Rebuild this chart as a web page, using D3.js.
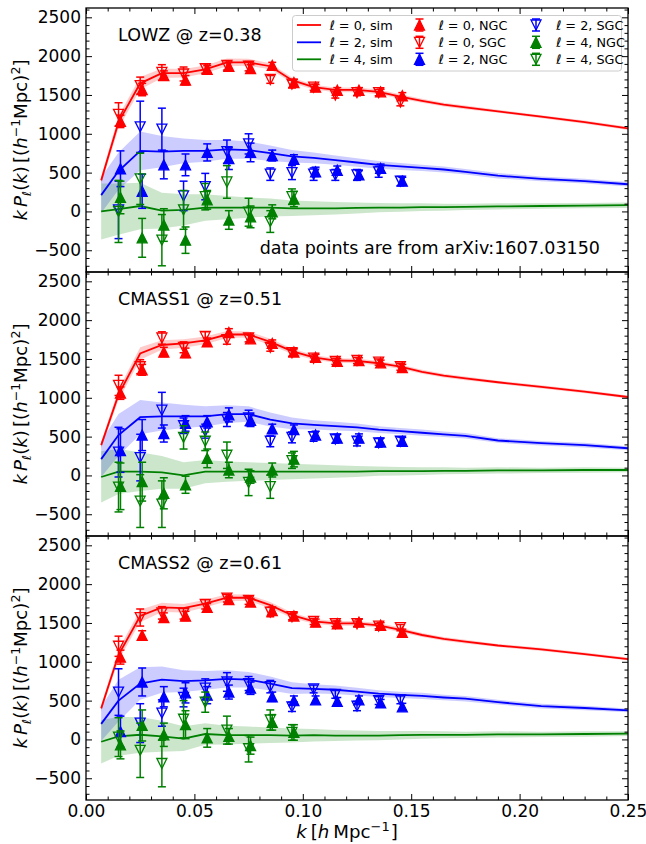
<!DOCTYPE html>
<html>
<head>
<meta charset="utf-8">
<script src="https://cdn.jsdelivr.net/npm/d3@7"></script>
<style>
  body { margin: 0; background: #fff; }
  text { font-family: "DejaVu Sans", sans-serif; }
</style>
</head>
<body>
<div id="container"></div>
<script>
// k grids
const kSim = [0.007, 0.015, 0.025, 0.035, 0.045, 0.055, 0.065, 0.075, 0.085, 0.095, 0.105, 0.115, 0.125, 0.135, 0.145, 0.155, 0.165, 0.175, 0.19, 0.21, 0.23, 0.25];
const kData = [0.015, 0.025, 0.035, 0.045, 0.055, 0.065, 0.075, 0.085, 0.095, 0.105, 0.115, 0.125, 0.135, 0.145];
const kData4 = [0.015, 0.025, 0.035, 0.045, 0.055, 0.065, 0.075, 0.085, 0.095];
const ngcShift = 0.0009;

const xTicks = [0, 0.05, 0.10, 0.15, 0.20, 0.25];
const yTicks = [-500, 0, 500, 1000, 1500, 2000, 2500];
const yDomain = [-780, 2620];

const panelLabels = ["LOWZ @ z=0.38", "CMASS1 @ z=0.51", "CMASS2 @ z=0.61"];
const legendSim = ["0, sim", "2, sim", "4, sim"];
const legendData = ["0, NGC", "0, SGC", "2, NGC", "2, SGC", "4, NGC", "4, SGC"];

// LOWZ
const lowzSim0 = [400, 1150, 1650, 1780, 1780, 1830, 1920, 1920, 1870, 1690, 1600, 1565, 1565, 1540, 1480, 1425, 1375, 1340, 1290, 1220, 1150, 1070];
const lowzSim2 = [210, 520, 780, 770, 780, 780, 800, 790, 750, 710, 690, 660, 630, 600, 580, 560, 540, 510, 460, 420, 390, 350];
const lowzSim4 = [0, 30, 70, 10, 20, 50, 50, 50, 50, 40, 40, 40, 45, 50, 50, 55, 55, 60, 65, 70, 75, 80];
const lowzBand0 = [50, 80, 80, 60, 55, 50, 50, 45, 40, 35, 30, 30, 30, 30, 30, 25, 25, 25, 20, 20, 20, 20];
const lowzBand2 = [230, 240, 250, 200, 160, 140, 120, 110, 100, 80, 70, 60, 55, 50, 45, 40, 40, 35, 35, 30, 30, 30];
const lowzBand4 = [360, 330, 300, 230, 200, 170, 150, 130, 115, 100, 90, 80, 70, 60, 55, 50, 45, 40, 40, 35, 35, 35];
const lowzNgc0 = [1160, 1570, 1750, 1690, 1830, 1870, 1840, 1880, 1660, 1600, 1560, 1560, 1540, 1490];
const lowzNgc0Err = [80, 80, 60, 60, 50, 50, 50, 40, 40, 35, 35, 35, 35, 40];
const lowzSgc0 = [1250, 1620, 1790, 1770, 1840, 1880, 1870, 1700, 1640, 1600, 1500, 1530, 1530, 1410];
const lowzSgc0Err = [150, 110, 100, 90, 60, 60, 60, 50, 50, 40, 40, 40, 40, 50];
const lowzNgc2 = [550, 260, 600, 600, 760, 680, 760, 720, 670, 510, 530, 470, 555, 390];
const lowzNgc2Err = [230, 220, 180, 140, 110, 140, 120, 70, 60, 60, 55, 55, 55, 50];
const lowzSgc2 = [20, 1090, 1060, 200, 320, 770, 870, 480, 500, 480, 470, 470, 510, 390];
const lowzSgc2Err = [370, 330, 270, 190, 170, 150, 130, 80, 90, 80, 70, 70, 70, 60];
const lowzNgc4 = [180, -340, -175, -370, 150, -110, -70, -5, 160];
const lowzNgc4Err = [210, 250, 210, 170, 120, 120, 140, 90, 100];
const lowzSgc4 = [0, 420, -370, 20, 190, 380, -10, -130, 190];
const lowzSgc4Err = [400, 330, 330, 250, 170, 210, 180, 140, 100];

// CMASS1
const cmass1Sim0 = [390, 1040, 1570, 1680, 1700, 1740, 1815, 1815, 1720, 1600, 1520, 1480, 1475, 1445, 1400, 1335, 1285, 1250, 1200, 1140, 1080, 1010];
const cmass1Sim2 = [210, 520, 750, 760, 760, 760, 790, 790, 720, 670, 650, 635, 620, 590, 570, 550, 530, 510, 450, 415, 390, 350];
const cmass1Sim4 = [-20, 50, 50, 40, 0, 50, 50, 50, 50, 50, 50, 50, 50, 55, 55, 55, 60, 60, 65, 65, 70, 70];
const cmass1Band0 = [40, 70, 80, 60, 55, 50, 45, 40, 40, 35, 30, 30, 30, 30, 30, 25, 25, 25, 20, 20, 20, 20];
const cmass1Band2 = [230, 270, 220, 180, 150, 130, 115, 100, 90, 75, 60, 55, 50, 45, 40, 40, 35, 35, 30, 30, 30, 25];
const cmass1Band4 = [330, 290, 250, 210, 170, 150, 130, 120, 110, 100, 90, 80, 70, 60, 55, 50, 45, 40, 40, 35, 35, 30];
const cmass1Ngc0 = [1060, 1360, 1590, 1580, 1720, 1840, 1760, 1700, 1590, 1520, 1470, 1480, 1450, 1390];
const cmass1Ngc0Err = [80, 70, 60, 60, 50, 50, 45, 45, 40, 40, 35, 35, 35, 40];
const cmass1Sgc0 = [1160, 1400, 1770, 1650, 1790, 1750, 1770, 1650, 1580, 1510, 1470, 1480, 1460, 1400];
const cmass1Sgc0Err = [130, 90, 80, 70, 60, 60, 50, 50, 45, 40, 40, 40, 40, 45];
const cmass1Ngc2 = [320, 520, 540, 670, 690, 780, 710, 600, 590, 520, 480, 480, 430, 440];
const cmass1Ngc2Err = [280, 200, 110, 100, 80, 90, 80, 60, 60, 50, 50, 55, 50, 50];
const cmass1Sgc2 = [300, 230, 840, 640, 570, 720, 740, 440, 490, 500, 470, 440, 420, 440];
const cmass1Sgc2Err = [320, 300, 230, 100, 90, 90, 100, 70, 70, 60, 55, 60, 55, 55];
const cmass1Ngc4 = [-140, -80, -230, -120, 220, 70, -20, 70, 210];
const cmass1Ngc4Err = [300, 250, 200, 110, 120, 100, 80, 90, 100];
const cmass1Sgc4 = [-150, -330, -370, 490, 440, 260, -90, -145, 190];
const cmass1Sgc4Err = [320, 340, 300, 150, 120, 170, 170, 150, 100];

// CMASS2
const cmass2Sim0 = [400, 1090, 1590, 1700, 1690, 1750, 1825, 1825, 1730, 1600, 1520, 1495, 1495, 1470, 1410, 1345, 1295, 1260, 1210, 1160, 1100, 1035];
const cmass2Sim2 = [200, 500, 720, 770, 750, 760, 780, 770, 720, 660, 650, 640, 615, 590, 575, 560, 540, 525, 480, 430, 405, 375];
const cmass2Sim4 = [-30, 40, 60, 40, 10, 70, 55, 55, 55, 50, 55, 50, 50, 50, 55, 60, 60, 60, 65, 65, 70, 75];
const cmass2Band0 = [40, 70, 80, 60, 55, 50, 45, 40, 40, 35, 30, 30, 30, 30, 30, 25, 25, 25, 20, 20, 20, 20];
const cmass2Band2 = [220, 270, 210, 170, 140, 120, 110, 100, 90, 75, 60, 55, 50, 45, 40, 40, 35, 35, 30, 30, 30, 25];
const cmass2Band4 = [280, 250, 230, 200, 160, 140, 120, 110, 100, 90, 80, 70, 65, 60, 55, 50, 45, 40, 40, 35, 35, 30];
const cmass2Ngc0 = [1060, 1340, 1570, 1590, 1700, 1800, 1770, 1660, 1590, 1510, 1490, 1510, 1470, 1380];
const cmass2Ngc0Err = [90, 60, 60, 60, 50, 45, 45, 45, 40, 40, 35, 40, 35, 40];
const cmass2Sgc0 = [1200, 1570, 1630, 1620, 1740, 1820, 1790, 1640, 1580, 1520, 1490, 1490, 1460, 1440];
const cmass2Sgc0Err = [130, 110, 80, 70, 60, 50, 50, 60, 40, 40, 35, 35, 35, 40];
const cmass2Ngc2 = [100, 740, 550, 600, 570, 610, 660, 550, 500, 510, 490, 510, 470, 420];
const cmass2Ngc2Err = [200, 180, 130, 130, 110, 90, 80, 60, 60, 50, 50, 50, 45, 45];
const cmass2Sgc2 = [610, 210, 340, 540, 660, 740, 720, 680, 420, 650, 580, 430, 500, 510];
const cmass2Sgc2Err = [300, 250, 170, 120, 120, 120, 90, 80, 60, 50, 50, 60, 50, 50];
const cmass2Ngc4 = [-70, 180, 60, 190, 20, 40, -80, 220, 90];
const cmass2Ngc4Err = [180, 200, 150, 180, 120, 100, 110, 100, 100];
const cmass2Sgc4 = [30, -140, -310, 260, 480, 120, -120, 250, 90];
const cmass2Sgc4Err = [250, 350, 300, 240, 130, 180, 170, 130, 100];

const colors = ["red", "blue", "green"];

const panels = [
  {sim: [lowzSim0, lowzSim2, lowzSim4], band: [lowzBand0, lowzBand2, lowzBand4],
   ngc: [lowzNgc0, lowzNgc2, lowzNgc4], ngcErr: [lowzNgc0Err, lowzNgc2Err, lowzNgc4Err],
   sgc: [lowzSgc0, lowzSgc2, lowzSgc4], sgcErr: [lowzSgc0Err, lowzSgc2Err, lowzSgc4Err]},
  {sim: [cmass1Sim0, cmass1Sim2, cmass1Sim4], band: [cmass1Band0, cmass1Band2, cmass1Band4],
   ngc: [cmass1Ngc0, cmass1Ngc2, cmass1Ngc4], ngcErr: [cmass1Ngc0Err, cmass1Ngc2Err, cmass1Ngc4Err],
   sgc: [cmass1Sgc0, cmass1Sgc2, cmass1Sgc4], sgcErr: [cmass1Sgc0Err, cmass1Sgc2Err, cmass1Sgc4Err]},
  {sim: [cmass2Sim0, cmass2Sim2, cmass2Sim4], band: [cmass2Band0, cmass2Band2, cmass2Band4],
   ngc: [cmass2Ngc0, cmass2Ngc2, cmass2Ngc4], ngcErr: [cmass2Ngc0Err, cmass2Ngc2Err, cmass2Ngc4Err],
   sgc: [cmass2Sgc0, cmass2Sgc2, cmass2Sgc4], sgcErr: [cmass2Sgc0Err, cmass2Sgc2Err, cmass2Sgc4Err]}
];

const width = 646, height = 844
  , left = 86, right = 628
  , panelTop = 8, panelHeight = 264
  , tickFont = 17
  , textFont = 17.5
  , labelFont = 18.2
  , majorLen = 6, minorLen = 3.5
  , capHalf = 4, mk = 5;

const svg = d3.select("#container").append("svg")
  .attr("width", width)
  .attr("height", height);

const x = d3.scaleLinear().domain([0, 0.25]).range([left, right]);
const xMinor = d3.range(0, 0.2501, 0.01).filter(v => Math.abs(v * 20 - Math.round(v * 20)) > 1e-6);
const yMinor = d3.range(-700, 2601, 100).filter(v => v % 500 != 0);

const triUp = `M0,${-mk}L${-mk},${mk}L${mk},${mk}Z`
  , triDown = `M0,${mk}L${-mk},${-mk}L${mk},${-mk}Z`;

function styleAxis(g, fontSize) {
  g.select(".domain").remove();
  g.selectAll(".tick line").attr("stroke", "#000").attr("stroke-width", 1);
  g.selectAll(".tick text")
    .attr("font-size", fontSize)
    .attr("font-family", "DejaVu Sans")
    .attr("fill", "#000");
}

function drawErrorbars(g, xs, vals, errs, y, color, filled) {
  const pts = g.append("g").selectAll("g")
    .data(xs.map((k, i) => ({k: k, v: vals[i], e: errs[i]})))
    .enter().append("g");
  pts.append("line")
    .attr("x1", d => x(d.k)).attr("x2", d => x(d.k))
    .attr("y1", d => y(d.v - d.e)).attr("y2", d => y(d.v + d.e))
    .attr("stroke", color).attr("stroke-width", 1.5);
  [-1, 1].forEach(s => {
    pts.append("line")
      .attr("x1", d => x(d.k) - capHalf).attr("x2", d => x(d.k) + capHalf)
      .attr("y1", d => y(d.v + s * d.e)).attr("y2", d => y(d.v + s * d.e))
      .attr("stroke", color).attr("stroke-width", 1.5);
  });
  pts.append("path")
    .attr("transform", d => `translate(${x(d.k)},${y(d.v)})`)
    .attr("d", filled ? triUp : triDown)
    .attr("fill", filled ? color : "none")
    .attr("stroke", color)
    .attr("stroke-width", 1.3);
}

panels.forEach((p, pi) => {
  const top = panelTop + pi * panelHeight
    , bottom = top + panelHeight;
  const y = d3.scaleLinear().domain(yDomain).range([bottom, top]);
  const g = svg.append("g");

  const clipId = "clip" + pi;
  svg.append("clipPath").attr("id", clipId)
    .append("rect").attr("x", left).attr("y", top)
    .attr("width", right - left).attr("height", panelHeight);

  const content = g.append("g").attr("clip-path", `url(#${clipId})`);

  // shaded bands
  p.sim.forEach((s, l) => {
    const area = d3.area()
      .x((d, i) => x(kSim[i]))
      .y0((d, i) => y(d - p.band[l][i]))
      .y1((d, i) => y(d + p.band[l][i]));
    content.append("path")
      .datum(s)
      .attr("d", area)
      .attr("fill", colors[l])
      .attr("fill-opacity", 0.2)
      .attr("stroke", "none");
  });

  // sim lines
  p.sim.forEach((s, l) => {
    const line = d3.line().x((d, i) => x(kSim[i])).y(d => y(d));
    content.append("path")
      .datum(s)
      .attr("d", line)
      .attr("fill", "none")
      .attr("stroke", colors[l])
      .attr("stroke-width", 1.8);
  });

  // data points
  p.ngc.forEach((vals, l) => {
    const ks = l == 2 ? kData4 : kData;
    drawErrorbars(content, ks.map(k => k + ngcShift), vals, p.ngcErr[l], y, colors[l], true);
    drawErrorbars(content, ks, p.sgc[l], p.sgcErr[l], y, colors[l], false);
  });

  // axes, ticks inward on all sides
  g.append("g").attr("transform", `translate(${left},0)`)
    .call(d3.axisLeft(y).tickValues(yTicks).tickSize(-majorLen).tickPadding(5).tickFormat(d3.format("d")))
    .call(a => styleAxis(a, tickFont));
  g.append("g").attr("transform", `translate(${left},0)`)
    .call(d3.axisLeft(y).tickValues(yMinor).tickSize(-minorLen).tickFormat(""))
    .call(a => styleAxis(a, tickFont));
  g.append("g").attr("transform", `translate(${right},0)`)
    .call(d3.axisRight(y).tickValues(yTicks).tickSize(-majorLen).tickFormat(""))
    .call(a => styleAxis(a, tickFont));
  g.append("g").attr("transform", `translate(${right},0)`)
    .call(d3.axisRight(y).tickValues(yMinor).tickSize(-minorLen).tickFormat(""))
    .call(a => styleAxis(a, tickFont));
  g.append("g").attr("transform", `translate(0,${top})`)
    .call(d3.axisTop(x).tickValues(xTicks).tickSize(-majorLen).tickFormat(""))
    .call(a => styleAxis(a, tickFont));
  g.append("g").attr("transform", `translate(0,${top})`)
    .call(d3.axisTop(x).tickValues(xMinor).tickSize(-minorLen).tickFormat(""))
    .call(a => styleAxis(a, tickFont));
  g.append("g").attr("transform", `translate(0,${bottom})`)
    .call(d3.axisBottom(x).tickValues(xTicks).tickSize(-majorLen).tickPadding(5)
      .tickFormat(pi == 2 ? d3.format(".2f") : ""))
    .call(a => styleAxis(a, tickFont));
  g.append("g").attr("transform", `translate(0,${bottom})`)
    .call(d3.axisBottom(x).tickValues(xMinor).tickSize(-minorLen).tickFormat(""))
    .call(a => styleAxis(a, tickFont));

  g.append("rect")
    .attr("x", left).attr("y", top)
    .attr("width", right - left).attr("height", panelHeight)
    .attr("fill", "none").attr("stroke", "#000").attr("stroke-width", 1.3);

  g.append("text")
    .attr("x", 118).attr("y", top + 33)
    .attr("font-size", textFont)
    .text(panelLabels[pi]);

  // y label
  const yl = g.append("text")
    .attr("transform", `translate(27,${top + panelHeight / 2}) rotate(-90)`)
    .attr("text-anchor", "middle")
    .attr("font-size", labelFont);
  yl.append("tspan").attr("font-style", "italic").text("k");
  yl.append("tspan").attr("font-style", "italic").attr("dx", 3).text("P");
  yl.append("tspan").attr("font-style", "italic").attr("font-size", 12.5).attr("dy", 3.5).text("ℓ");
  yl.append("tspan").attr("dy", -3.5).text("(");
  yl.append("tspan").attr("font-style", "italic").text("k");
  yl.append("tspan").text(")");
  yl.append("tspan").attr("dx", 3).text("[(");
  yl.append("tspan").attr("font-style", "italic").text("h");
  yl.append("tspan").attr("font-size", 12.5).attr("dy", -7).text("−1");
  yl.append("tspan").attr("dy", 7).text("Mpc)");
  yl.append("tspan").attr("font-size", 12.5).attr("dy", -7).text("2");
  yl.append("tspan").attr("dy", 7).text("]");
});

// annotation in the top panel
svg.append("text")
  .attr("x", 600).attr("y", panelTop + 246)
  .attr("text-anchor", "end")
  .attr("font-size", textFont)
  .text("data points are from arXiv:1607.03150");

// x label
const xl = svg.append("text")
  .attr("x", 347).attr("y", 838)
  .attr("text-anchor", "middle")
  .attr("font-size", labelFont);
xl.append("tspan").attr("font-style", "italic").text("k");
xl.append("tspan").attr("dx", 4).text("[");
xl.append("tspan").attr("font-style", "italic").text("h");
xl.append("tspan").attr("dx", 4).text("Mpc");
xl.append("tspan").attr("font-size", 13).attr("dy", -7.5).text("−1");
xl.append("tspan").attr("dx", 1).attr("dy", 7.5).text("]");

// legend
const legend = svg.append("g");
legend.append("rect")
  .attr("x", 292.5).attr("y", 15.5)
  .attr("width", 329).attr("height", 55.5)
  .attr("rx", 3)
  .attr("fill", "#fff").attr("fill-opacity", 0.8)
  .attr("stroke", "#cccccc").attr("stroke-width", 1);

const rowY = [25, 42.3, 59.3];

function legendLabel(xPos, yPos, rest) {
  const t = legend.append("text")
    .attr("x", xPos).attr("y", yPos + 4.8)
    .attr("font-size", 12.8);
  t.append("tspan").attr("font-style", "italic").text("ℓ");
  t.append("tspan").text(" = " + rest);
}

legendSim.forEach((lab, i) => {
  legend.append("line")
    .attr("x1", 297).attr("x2", 321)
    .attr("y1", rowY[i]).attr("y2", rowY[i])
    .attr("stroke", colors[i]).attr("stroke-width", 1.8);
  legendLabel(329.5, rowY[i], lab);
});

legendData.forEach((lab, i) => {
  const col = Math.floor(i / 3)
    , row = i % 3
    , cx = col == 0 ? 419.5 : 536
    , cy = rowY[row]
    , color = colors[Math.floor(i / 2)]
    , filled = i % 2 == 0;
  const mg = legend.append("g").attr("transform", `translate(${cx},${cy})`);
  mg.append("line").attr("y1", -6).attr("y2", 6)
    .attr("stroke", color).attr("stroke-width", 1.5);
  [-6, 6].forEach(c => {
    mg.append("line").attr("x1", -capHalf).attr("x2", capHalf)
      .attr("y1", c).attr("y2", c)
      .attr("stroke", color).attr("stroke-width", 1.5);
  });
  mg.append("path")
    .attr("d", filled ? triUp : triDown)
    .attr("fill", filled ? color : "none")
    .attr("stroke", color).attr("stroke-width", 1.3);
  legendLabel(col == 0 ? 438.5 : 556, cy, lab);
});
</script>
</body>
</html>
